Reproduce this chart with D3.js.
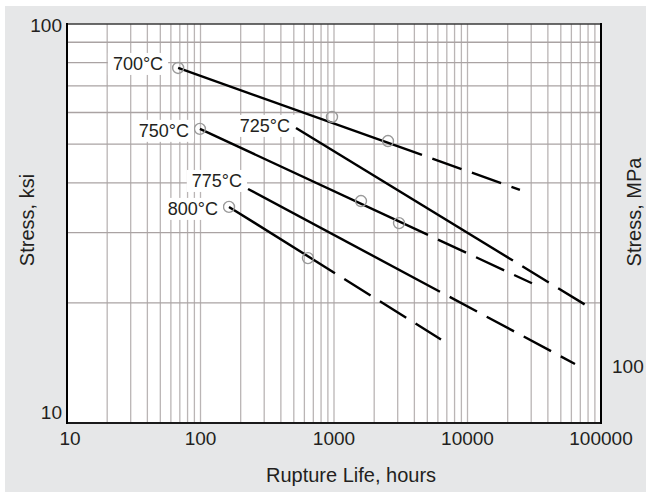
<!DOCTYPE html>
<html>
<head>
<meta charset="utf-8">
<script src="https://cdn.jsdelivr.net/npm/d3@7"></script>
<style>
  body { margin: 0; background: #fff; }
  text { font-family: "Liberation Sans", Arial, Helvetica, sans-serif; fill: #231f20; }
</style>
</head>
<body>
<svg width="646" height="492"></svg>
<script>
let width = 646, height = 492;

// rupture curves, (hours, ksi)
const temps = ["700°C", "725°C", "750°C", "775°C", "800°C"];
const startPts = [[68, 77.6], [519, 54.9], [99, 54.6], [227, 38.6], [163.5, 34.8]];
const endPts = [[24700, 38.4], [86000, 19.3], [30400, 22.4], [63860, 14.06], [6330, 16.2]];
const solidUntil = [4560, 21900, 5060, 6220, 1017];   // hours where the line turns dashed

// measured points (circles)
const pointTemp = ["700°C", "700°C", "700°C", "750°C", "750°C", "750°C", "800°C", "800°C"];
const pointHours = [68, 966, 2538, 99, 1593, 3069, 163.5, 638];
const pointKsi = [77.6, 58.5, 50.9, 54.6, 36.0, 31.7, 34.8, 25.9];

const xTicks = [10, 100, 1000, 10000, 100000];
const yTicks = [10, 100];
const mpaTicks = [100];

// label placement relative to line start (px)
const labelDx = [-15, -6, -11, -6, -11];
const labelDy = [2, 4, 8, -2, 8];

let svg = d3.select("svg");

let x = d3.scaleLog().domain([10, 100000]).range([67, 601]);
let y = d3.scaleLog().domain([10, 100]).range([423, 24]);

// background panel
svg.append("rect").attr("x", 5).attr("y", 6).attr("width", width - 5).attr("height", height - 6)
    .attr("fill", "#e6e7e8");
svg.append("rect").attr("x", x(10)).attr("y", y(100))
    .attr("width", x(100000) - x(10)).attr("height", y(10) - y(100))
    .attr("fill", "#fff");

// grid
let vGrid = [];
for (let d = 10; d < 100000; d *= 10) {
    for (let m = 2; m <= 10; m++) vGrid.push(d * m);
}
vGrid = vGrid.filter(v => v < 100000);
let hGrid = d3.range(20, 100, 10);

let grid = svg.append("g");
grid.selectAll("line.v").data(vGrid).enter().append("line")
    .attr("x1", d => x(d)).attr("x2", d => x(d))
    .attr("y1", y(100)).attr("y2", y(10))
    .attr("stroke", "#bab5b5").attr("stroke-width", 1.3);
grid.selectAll("line.h").data(hGrid).enter().append("line")
    .attr("x1", x(10)).attr("x2", x(100000))
    .attr("y1", d => y(d)).attr("y2", d => y(d))
    .attr("stroke", "#aaa3a3").attr("stroke-width", 1.3);

// frame
svg.append("line").attr("x1", x(10)).attr("x2", x(100000)).attr("y1", y(100)).attr("y2", y(100))
    .attr("stroke", "#3a3a3a").attr("stroke-width", 1.6);
svg.append("line").attr("x1", x(10)).attr("x2", x(100000)).attr("y1", y(10)).attr("y2", y(10))
    .attr("stroke", "#1a1a1a").attr("stroke-width", 1.8);
svg.append("line").attr("x1", x(10)).attr("x2", x(10)).attr("y1", y(100) - 1).attr("y2", y(10) + 1)
    .attr("stroke", "#000").attr("stroke-width", 2);
svg.append("line").attr("x1", x(100000)).attr("x2", x(100000)).attr("y1", y(100) - 1).attr("y2", y(10) + 1)
    .attr("stroke", "#000").attr("stroke-width", 2);

// straight line in log-log space, evaluated at hours h
function ksiAt(i, h) {
    let a = startPts[i], b = endPts[i];
    let t = (Math.log10(h) - Math.log10(a[0])) / (Math.log10(b[0]) - Math.log10(a[0]));
    return Math.pow(10, Math.log10(a[1]) + t * (Math.log10(b[1]) - Math.log10(a[1])));
}

let lineGen = d3.line().x(d => x(d[0])).y(d => y(d[1]));

let curves = svg.append("g");
temps.forEach((t, i) => {
    let mid = [solidUntil[i], ksiAt(i, solidUntil[i])];
    curves.append("path")
        .attr("d", lineGen([startPts[i], mid]))
        .attr("fill", "none").attr("stroke", "#000").attr("stroke-width", 2.4);
    curves.append("path")
        .attr("d", lineGen([mid, endPts[i]]))
        .attr("fill", "none").attr("stroke", "#000").attr("stroke-width", 2.4)
        .attr("stroke-dasharray", "31,11").attr("stroke-dashoffset", 31);
});

// measured points
svg.append("g").selectAll("circle")
    .data(d3.range(pointHours.length))
    .enter().append("circle")
    .attr("cx", i => x(pointHours[i]))
    .attr("cy", i => y(pointKsi[i]))
    .attr("r", 5.5)
    .attr("fill", "none")
    .attr("stroke", "#9a9a9a")
    .attr("stroke-width", 1.4);

// temperature labels
let labels = svg.append("g");
temps.forEach((t, i) => {
    let g = labels.append("g");
    let txt = g.append("text")
        .attr("x", x(startPts[i][0]) + labelDx[i])
        .attr("y", y(startPts[i][1]) + labelDy[i])
        .attr("text-anchor", "end")
        .style("font-size", "18px")
        .text(t);
    let bb = txt.node().getBBox();
    g.insert("rect", "text")
        .attr("x", bb.x - 5).attr("y", bb.y - 1)
        .attr("width", bb.width + 10).attr("height", bb.height + 2)
        .attr("fill", "#fff");
});

// tick labels
svg.append("g").selectAll("text")
    .data(xTicks).enter().append("text")
    .attr("x", d => x(d) + (d == 10 ? 3 : 0))
    .attr("y", y(10) + 22)
    .attr("text-anchor", "middle")
    .style("font-size", "19px")
    .text(d => d);

svg.append("g").selectAll("text")
    .data(yTicks).enter().append("text")
    .attr("x", x(10) - 5)
    .attr("y", d => y(d) + (d == 10 ? -4 : 8))
    .attr("text-anchor", "end")
    .style("font-size", "19px")
    .text(d => d);

svg.append("g").selectAll("text")
    .data(mpaTicks).enter().append("text")
    .attr("x", x(100000) + 11)
    .attr("y", d => y(d / 6.895) + 14)
    .attr("text-anchor", "start")
    .style("font-size", "19px")
    .text(d => d);

// axis titles
svg.append("text")
    .attr("x", 266).attr("y", 482)
    .attr("text-anchor", "start")
    .style("font-size", "20px")
    .text("Rupture Life, hours");

svg.append("text")
    .attr("transform", "translate(34,220) rotate(-90)")
    .attr("text-anchor", "middle")
    .style("font-size", "20px")
    .text("Stress, ksi");

svg.append("text")
    .attr("transform", "translate(641,212) rotate(-90)")
    .attr("text-anchor", "middle")
    .style("font-size", "20px")
    .text("Stress, MPa");
</script>
</body>
</html>
